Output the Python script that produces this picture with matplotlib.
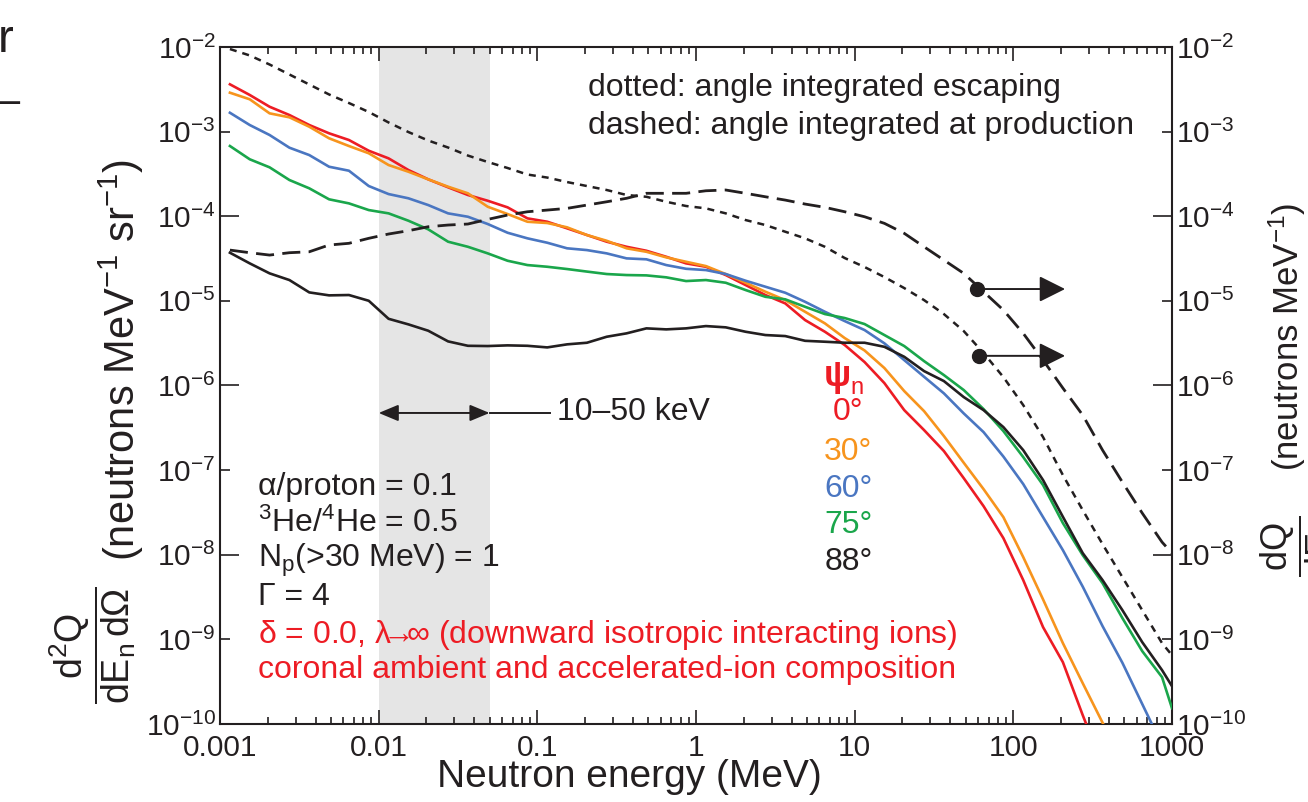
import numpy as np
import matplotlib.pyplot as plt
from matplotlib.ticker import FixedLocator, LogFormatterSciNotation

plt.rcParams['font.family'] = ['Liberation Sans', 'DejaVu Sans']
plt.rcParams['mathtext.fontset'] = 'custom'
plt.rcParams['mathtext.rm'] = 'Liberation Sans'
plt.rcParams['mathtext.it'] = 'Liberation Sans:italic'
plt.rcParams['mathtext.bf'] = 'Liberation Sans:bold'

INK = '#231f20'

# energy bin centres, 8 bins per decade (log10 of MeV)
log_E = [-2.9375 + 0.125 * k for k in range(48)]
log_E_edge = log_E + [3.0]  # curves that run into the right frame

# log10 of spectra, one per emission angle psi_n
psi_0 = [-2.441, -2.567, -2.706, -2.804, -2.922, -3.020, -3.099, -3.226, -3.316, -3.454,
         -3.564, -3.658, -3.749, -3.817, -3.895, -4.025, -4.065, -4.143, -4.222, -4.301,
         -4.361, -4.408, -4.479, -4.557, -4.597, -4.695, -4.813, -4.931, -5.030, -5.227,
         -5.365, -5.522, -5.723, -5.972, -6.291, -6.527, -6.775, -7.095, -7.426, -7.804,
         -8.300, -8.856, -9.270, -9.896, -10.487]
psi_30 = [-2.540, -2.618, -2.784, -2.831, -2.942, -3.079, -3.170, -3.256, -3.395, -3.474,
          -3.564, -3.651, -3.729, -3.888, -3.974, -4.065, -4.080, -4.131, -4.222, -4.290,
          -4.379, -4.420, -4.486, -4.538, -4.589, -4.683, -4.786, -4.892, -4.991, -5.129,
          -5.266, -5.440, -5.586, -5.794, -6.066, -6.303, -6.598, -6.913, -7.225, -7.556,
          -8.028, -8.528, -9.045, -9.518, -9.985, -10.428]
psi_60 = [-2.777, -2.922, -3.040, -3.190, -3.277, -3.415, -3.462, -3.643, -3.738, -3.788,
          -3.868, -3.966, -4.006, -4.092, -4.195, -4.261, -4.313, -4.379, -4.400, -4.439,
          -4.498, -4.509, -4.577, -4.621, -4.636, -4.683, -4.762, -4.833, -4.904, -5.011,
          -5.129, -5.239, -5.345, -5.502, -5.700, -5.897, -6.093, -6.330, -6.551, -6.840,
          -7.165, -7.556, -7.946, -8.377, -8.844, -9.277, -9.764, -10.251]
psi_75 = [-3.170, -3.327, -3.422, -3.572, -3.670, -3.800, -3.848, -3.927, -3.966, -4.053,
          -4.155, -4.301, -4.361, -4.439, -4.526, -4.577, -4.597, -4.624, -4.654, -4.683,
          -4.695, -4.699, -4.722, -4.766, -4.754, -4.786, -4.872, -4.952, -4.982, -5.070,
          -5.156, -5.203, -5.274, -5.404, -5.534, -5.712, -5.877, -6.054, -6.279, -6.539,
          -6.846, -7.177, -7.626, -8.005, -8.336, -8.749, -9.139, -9.447, -9.813]
psi_88 = [-4.431, -4.557, -4.675, -4.754, -4.900, -4.935, -4.931, -4.999, -5.212, -5.278,
          -5.353, -5.479, -5.531, -5.534, -5.526, -5.531, -5.550, -5.514, -5.495, -5.424,
          -5.384, -5.325, -5.337, -5.325, -5.298, -5.313, -5.365, -5.404, -5.416, -5.472,
          -5.483, -5.495, -5.495, -5.543, -5.661, -5.830, -5.948, -6.137, -6.291, -6.492,
          -6.764, -7.118, -7.552, -7.981, -8.300, -8.655, -9.033, -9.364, -9.553]

# angle integrated spectra (right axis, dQ/dEn)
escaping = [-2.024, -2.100, -2.207, -2.325, -2.443, -2.561, -2.662, -2.768, -2.892, -3.005,
            -3.105, -3.188, -3.283, -3.359, -3.430, -3.507, -3.543, -3.596, -3.643, -3.690,
            -3.749, -3.770, -3.829, -3.879, -3.907, -3.966, -4.045, -4.104, -4.183, -4.261,
            -4.361, -4.494, -4.600, -4.719, -4.849, -4.991, -5.156, -5.357, -5.617, -5.901,
            -6.232, -6.610, -7.059, -7.473, -7.875, -8.265, -8.655, -9.045, -9.187]
production = [-4.400, -4.431, -4.459, -4.431, -4.420, -4.340, -4.320, -4.261, -4.210, -4.171,
              -4.124, -4.104, -4.092, -4.037, -3.986, -3.947, -3.927, -3.907, -3.868, -3.829,
              -3.788, -3.729, -3.729, -3.729, -3.699, -3.690, -3.729, -3.770, -3.809, -3.856,
              -3.895, -3.947, -4.006, -4.084, -4.202, -4.361, -4.518, -4.675, -4.892, -5.109,
              -5.384, -5.700, -6.031, -6.350, -6.764, -7.142, -7.508, -7.851, -7.981]

angles = ['0°', '30°', '60°', '75°', '88°']
colors = ['#ed1c24', '#f7941d', '#4a76c1', '#1aa64b', INK]
spectra = [psi_0, psi_30, psi_60, psi_75, psi_88]

band = [0.01, 0.05]          # 10-50 keV
band_text_end = 0.12
right_axis_E = [59.3, 61.0]   # dots pointing to the right axis
right_axis_y = [1.38e-5, 2.24e-6]
arrow_tip_E = 212.0

xticks = [0.001, 0.01, 0.1, 1, 10, 100, 1000]
xticklabels = ['0.001', '0.01', '0.1', '1', '10', '100', '1000']

fig = plt.figure(figsize=(13.08, 8.02), dpi=100)
ax = fig.add_axes([0.1682, 0.0973, 0.7278, 0.8441])

ax.axvspan(band[0], band[1], color='#e5e5e5', lw=0, zorder=0)

for vals, c in zip(spectra, colors):
    x = log_E_edge[:len(vals)]
    ax.plot(10 ** np.array(x), 10 ** np.array(vals), color=c, lw=1.9, zorder=3)

ax.plot(10 ** np.array(log_E_edge), 10 ** np.array(escaping), color=INK, lw=1.8,
        linestyle=(0, (2.8, 2.4)), zorder=3)
ax.plot(10 ** np.array(log_E_edge), 10 ** np.array(production), color=INK, lw=2.0,
        linestyle=(0, (6.5, 3.0)), zorder=3)

# dots with arrows to the right-hand axis
ax.plot(right_axis_E, right_axis_y, 'o', color=INK, ms=10, zorder=4)
for xe, ye in zip(right_axis_E, right_axis_y):
    ax.annotate('', xy=(arrow_tip_E, ye), xytext=(xe, ye),
                arrowprops=dict(arrowstyle='-|>,head_length=0.8,head_width=0.4',
                                mutation_scale=20, color=INK, lw=1.4, shrinkA=0, shrinkB=0))

# 10-50 keV band arrow
xt = ax.get_xaxis_transform()
ax.annotate('', xy=(band[0], 0.4594), xytext=(band[1], 0.4594), xycoords=xt, textcoords=xt,
            arrowprops=dict(arrowstyle='<|-|>,head_length=0.6,head_width=0.25',
                            mutation_scale=20, color=INK, lw=1.4, shrinkA=0, shrinkB=0))
ax.plot([band[1], band_text_end], [0.4594, 0.4594], color=INK, lw=1.4, transform=xt)
ax.text(0.354, 0.461, '10–50 keV', transform=ax.transAxes, fontsize=23, color=INK,
        ha='left', va='center')

ax.set_xscale('log')
ax.set_yscale('log')
ax.set_xlim(1e-3, 1e3)
ax.set_ylim(1e-10, 1e-2)

ax.set_xticks(xticks)
ax.set_xticklabels(xticklabels)
ax.yaxis.set_major_locator(FixedLocator([1e-2, 1e-4, 1e-6, 1e-8, 1e-10]))
ax.yaxis.set_minor_locator(FixedLocator([1e-3, 1e-5, 1e-7, 1e-9]))
ax.yaxis.set_major_formatter(LogFormatterSciNotation())
ax.yaxis.set_minor_formatter(LogFormatterSciNotation())

ax.tick_params(which='both', direction='in', top=True, right=True, labelright=True,
               colors=INK, labelsize=21.5, width=1.2)
ax.tick_params(axis='x', which='major', length=10, pad=7)
ax.tick_params(axis='x', which='minor', length=5)
ax.tick_params(axis='y', which='major', length=14, pad=3)
ax.tick_params(axis='y', which='minor', length=7, pad=3)
for s in ax.spines.values():
    s.set_linewidth(1.5)
    s.set_color(INK)

ax.set_xlabel('Neutron energy (MeV)', fontsize=28, color=INK, va='top')
ax.xaxis.set_label_coords(0.4296, -0.052)

# left axis label: fraction and units as two rotated pieces
fig.text(93 / 1308, 1 - 645 / 802, r'$\dfrac{\mathrm{d^2Q}}{\mathrm{dE_n\,d\Omega}}$',
         rotation=90, fontsize=27, color=INK, ha='center', va='center')
fig.text(121 / 1308, 1 - 360 / 802, r'(neutrons MeV$^{-1}$ sr$^{-1}$)',
         rotation=90, fontsize=30, color=INK, ha='center', va='center')

# right axis label, cut by the figure edge as in the source
fig.text(1300 / 1308, 1 - 546 / 802, r'$\dfrac{\mathrm{dQ}}{\mathrm{dE_n}}$',
         rotation=90, fontsize=26, color=INK, ha='center', va='center')
fig.text(1287 / 1308, 1 - 337 / 802, r'(neutrons MeV$^{-1}$)',
         rotation=90, fontsize=25, color=INK, ha='center', va='center')

# legend text for line styles
ax.text(0.3866, 0.939, 'dotted: angle integrated escaping', transform=ax.transAxes,
        fontsize=23, color=INK, va='center')
ax.text(0.3866, 0.883, 'dashed: angle integrated at production', transform=ax.transAxes,
        fontsize=23, color=INK, va='center')

# angle labels
ax.text(0.649, 0.513, 'ψ', transform=ax.transAxes, fontsize=26, fontweight='bold',
        color=colors[0], ha='center', va='center')
ax.text(0.662, 0.497, 'n', transform=ax.transAxes, fontsize=17, color=colors[0],
        ha='left', va='center')
ang_y = [0.461, 0.402, 0.347, 0.294, 0.239]
for lab, c, yy in zip(angles, colors, ang_y):
    ax.text(0.660, yy, lab, transform=ax.transAxes, fontsize=23, color=c,
            ha='center', va='center')

# parameters
params = ['α/proton = 0.1', r'$^3$He/$^4$He = 0.5', r'N$_\mathrm{p}$(>30 MeV) = 1', 'Γ = 4',
          r'δ = 0.0, λ$\!\!\!\rightarrow\!\!\!\infty$ (downward isotropic interacting ions)',
          'coronal ambient and accelerated-ion composition']
param_y = [0.350, 0.297, 0.242, 0.188, 0.131, 0.080]
param_c = [INK, INK, INK, INK, colors[0], colors[0]]
for t, yy, c in zip(params, param_y, param_c):
    ax.text(0.040, yy, t, transform=ax.transAxes, fontsize=23, color=c,
            ha='left', va='center')

# fragments of neighbouring panel text at the left edge
fig.text(-0.002, 1 - 40 / 802, 'r', fontsize=34, color=INK, ha='left', va='center')
fig.text(-0.002, 1 - 102 / 802, '–', fontsize=30, color=INK, ha='left', va='center')

fig.savefig('out.png', dpi=100)
